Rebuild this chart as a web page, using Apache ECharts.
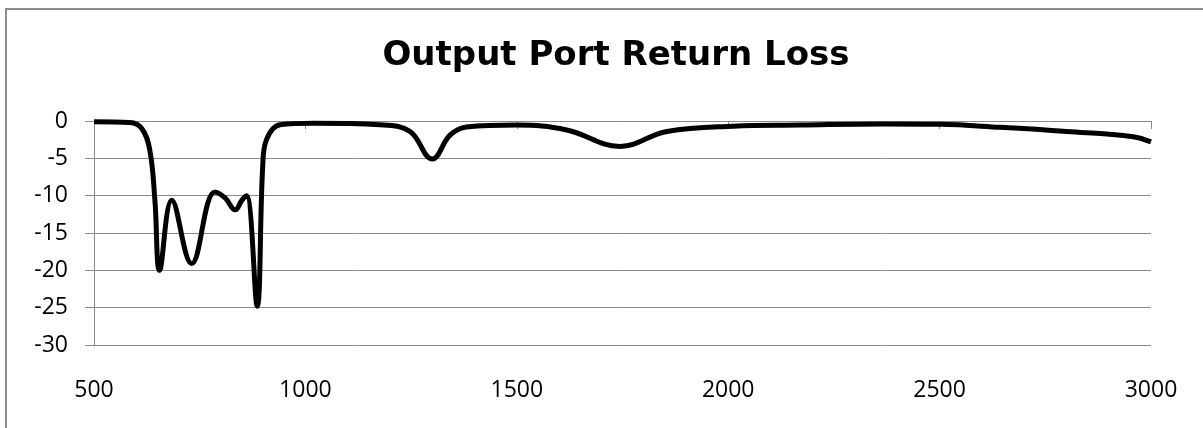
<!DOCTYPE html>
<html>
<head>
<meta charset="utf-8">
<script src="https://cdn.jsdelivr.net/npm/echarts@6/dist/echarts.min.js"></script>
<style>
  html, body { margin: 0; padding: 0; background: #fff; }
  #chart { width: 1203px; height: 428px; }
</style>
</head>
<body>
<div id="chart"></div>
<script>
// frequency (MHz) and return loss (dB)
var freqs = [500, 585, 613, 632, 644, 655, 684, 731, 786, 810, 834, 850, 861, 886, 899, 908, 940, 1018, 1176, 1247, 1300, 1342, 1381, 1500, 1618, 1744, 1855, 2012, 2170, 2366, 2501, 2643, 2800, 2958, 3000];
var returnLoss = [-0.1, -0.2, -1, -3.9, -10.6, -20, -10.6, -19.1, -9.5, -10.3, -11.9, -10.6, -10, -24.8, -6.1, -2.5, -0.5, -0.3, -0.5, -1.4, -5.1, -1.9, -0.8, -0.55, -1.2, -3.4, -1.4, -0.7, -0.55, -0.4, -0.45, -0.85, -1.4, -2.1, -2.8];
var xTicks = [500, 3000, 500];   // min, max, step
var yTicks = [-30, 0, 5];

var points = [];
for (var i = 0; i < freqs.length; i++) {
  points.push([freqs[i], returnLoss[i]]);
}

var gridColor = '#8a8a8a';

var chart = echarts.init(document.getElementById('chart'));
var option = {
  backgroundColor: '#fff',
  animation: false,
  title: {
    text: 'Output Port Return Loss',
    left: 611,
    top: 34,
    textAlign: 'center',
    textStyle: { fontFamily: 'DejaVu Sans', fontWeight: 'bold', fontSize: 34, color: '#000' }
  },
  graphic: [{
    type: 'rect',
    shape: { x: 6, y: 9, width: 1210, height: 430 },
    style: { fill: 'none', stroke: '#8c8c8c', lineWidth: 2 }
  }],
  grid: { left: 94, right: 52, top: 121, bottom: 83 },
  xAxis: [{
    type: 'value',
    position: 'bottom',
    min: xTicks[0], max: xTicks[1], interval: xTicks[2],
    axisLine: { show: false },
    axisTick: { show: false },
    splitLine: { show: false },
    axisLabel: { margin: 34, color: '#000', fontFamily: 'Open Sans', fontSize: 23, formatter: function (v) { return String(v); } }
  }, {
    type: 'value',
    position: 'top',
    min: xTicks[0], max: xTicks[1], interval: xTicks[2],
    axisLine: { show: true, onZero: false, lineStyle: { color: gridColor, width: 1 } },
    axisTick: { show: true, inside: true, length: 8, lineStyle: { color: gridColor } },
    axisLabel: { show: false },
    splitLine: { show: false }
  }],
  yAxis: {
    type: 'value',
    min: yTicks[0], max: yTicks[1], interval: yTicks[2],
    axisLine: { show: true, lineStyle: { color: gridColor, width: 1 } },
    axisTick: { show: true, length: 9, lineStyle: { color: gridColor } },
    splitLine: { show: true, lineStyle: { color: gridColor, width: 1 } },
    axisLabel: { margin: 26, color: '#000', fontFamily: 'Open Sans', fontSize: 23 }
  },
  series: [{
    type: 'line',
    xAxisIndex: 0,
    data: points,
    smooth: 0.4,
    showSymbol: false,
    lineStyle: { color: '#000', width: 5 },
    z: 5
  }]
};
chart.setOption(option);
</script>
</body>
</html>
